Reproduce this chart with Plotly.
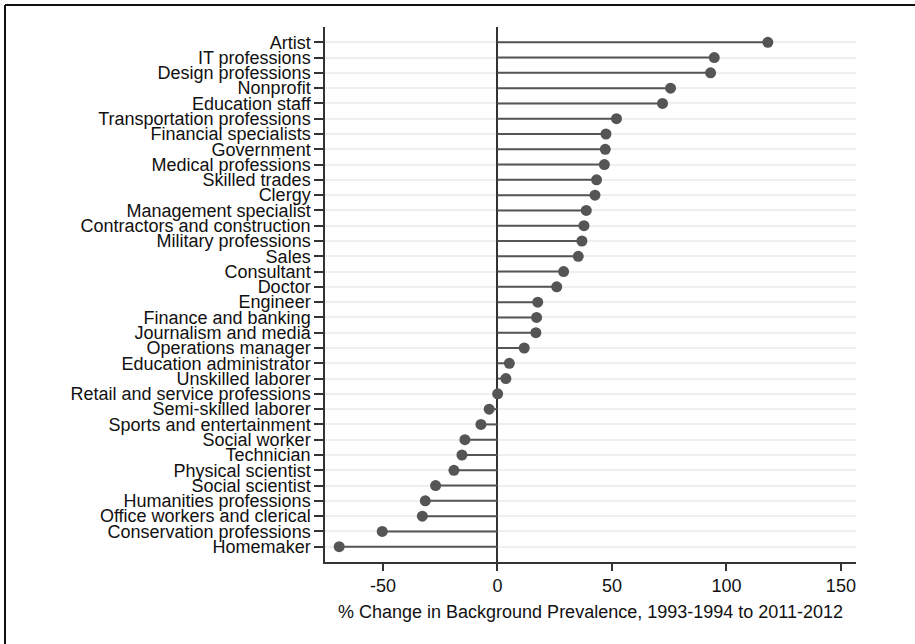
import plotly.graph_objects as go

# Occupational backgrounds, listed from largest to smallest change
occupations = [
    "Artist", "IT professions", "Design professions", "Nonprofit", "Education staff",
    "Transportation professions", "Financial specialists", "Government",
    "Medical professions", "Skilled trades", "Clergy", "Management specialist",
    "Contractors and construction", "Military professions", "Sales", "Consultant",
    "Doctor", "Engineer", "Finance and banking", "Journalism and media",
    "Operations manager", "Education administrator", "Unskilled laborer",
    "Retail and service professions", "Semi-skilled laborer",
    "Sports and entertainment", "Social worker", "Technician",
    "Physical scientist", "Social scientist", "Humanities professions",
    "Office workers and clerical", "Conservation professions", "Homemaker",
]

# % change in background prevalence, 1993-1994 to 2011-2012
pct_change = [
    118.1, 94.7, 93.1, 75.6, 72.1,
    52.0, 47.4, 47.1,
    46.7, 43.3, 42.6, 38.8,
    37.8, 36.9, 35.3, 28.9,
    25.9, 17.6, 17.1, 16.8,
    11.7, 5.2, 3.7,
    0.1, -3.6,
    -7.2, -14.2, -15.5,
    -19.0, -27.0, -31.5,
    -32.8, -50.3, -69.1,
]

x_ticks = [-50, 0, 50, 100, 150]
x_title = "% Change in Background Prevalence, 1993-1994 to 2011-2012"

ink = "#555555"
axis_col = "#333333"
font_family = "Arial, 'Liberation Sans', sans-serif"

# stems from zero to each value
stem_x, stem_y = [], []
for occ, v in zip(occupations, pct_change):
    stem_x += [0, v, None]
    stem_y += [occ, occ, None]

fig = go.Figure()
fig.add_trace(go.Scatter(
    x=stem_x, y=stem_y, mode="lines",
    line=dict(color=ink, width=2), hoverinfo="skip", showlegend=False,
))
fig.add_trace(go.Scatter(
    x=pct_change, y=occupations, mode="markers",
    marker=dict(color=ink, size=11, line=dict(width=0)),
    showlegend=False,
))

# outer frame along the top and left of the canvas
plot_w, plot_h = 915 - 325 - 59, 644 - 27 - 82
fx = (5 - 325) / plot_w
fy_top = 1 + (27 - 5) / plot_h
fig.add_shape(type="line", xref="paper", yref="paper",
              x0=fx, x1=(915 - 325) / plot_w, y0=fy_top, y1=fy_top,
              line=dict(color="#111111", width=2))
fig.add_shape(type="line", xref="paper", yref="paper",
              x0=fx, x1=fx, y0=fy_top, y1=-(644 - 27) / plot_h,
              line=dict(color="#111111", width=2))

fig.update_layout(
    width=915, height=644,
    margin=dict(l=325, r=59, t=27, b=82),
    paper_bgcolor="white", plot_bgcolor="white",
    font=dict(family=font_family, size=18, color="#111111"),
    xaxis=dict(
        range=[-75.3, 156.6],
        tickvals=x_ticks, ticktext=[str(t) for t in x_ticks],
        showgrid=False,
        zeroline=True, zerolinecolor=axis_col, zerolinewidth=1.5,
        showline=True, linecolor=axis_col, linewidth=1.5,
        ticks="outside", ticklen=7, tickwidth=1.5, tickcolor=axis_col,
        tickfont=dict(size=18),
        title=dict(text=x_title, font=dict(size=18), standoff=10),
    ),
    yaxis=dict(
        type="category",
        categoryorder="array", categoryarray=occupations[::-1],
        tickmode="array", tickvals=occupations, ticktext=occupations,
        range=[-1, len(occupations)],
        showgrid=True, gridcolor="#efefef", gridwidth=1.5,
        showline=True, linecolor=axis_col, linewidth=1.5,
        ticks="outside", ticklen=9, tickwidth=1.5, tickcolor=axis_col,
        tickfont=dict(size=18),
        zeroline=False,
    ),
)

fig.write_html("out.html")
